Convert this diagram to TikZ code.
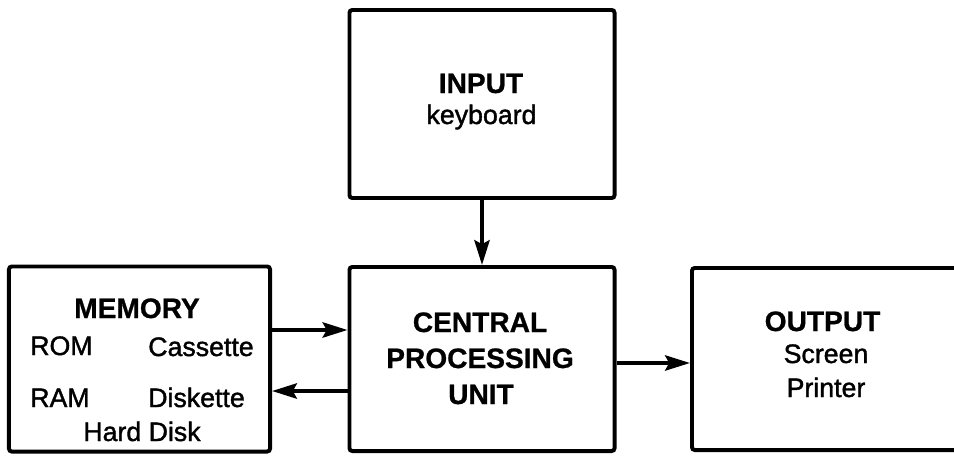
\documentclass[tikz,border=0pt]{standalone}
\usepackage{fontspec}
\setmainfont{Liberation Sans}
\newfontfamily\medfont[FakeBold=1.4]{Liberation Sans}
\newfontfamily\heavyfont[FakeBold=0.8]{Liberation Sans Bold}
\usetikzlibrary{arrows.meta}
\usetikzlibrary{positioning}

\begin{document}
\begin{tikzpicture}[x=0.025cm,y=-0.025cm,
>={Stealth[length=0.62cm,width=0.38cm,inset=0.1cm]},
block/.style={draw,rectangle,line width=2.8pt,rounded corners=2pt},
title/.style={font=\heavyfont\fontsize{20}{24}\selectfont,anchor=base,inner sep=0pt},
item/.style={font=\medfont\fontsize{19}{23}\selectfont,anchor=base,inner sep=0pt}]

\useasboundingbox (0,0) rectangle (954,455);

% blocks
\node[block,minimum width=6.525cm,minimum height=4.625cm] (memory) at (139.5,359) {};
\node[block,minimum width=6.625cm,minimum height=4.6cm] (cpu) at (482,359) {};
\node[block,minimum width=6.625cm,minimum height=4.7cm] (input) at (482,104) {};
\node[block,minimum width=6.65cm,minimum height=4.55cm] (output) at (825,359) {};

% input text
\node[title] (inputtitle) at (481,93) {INPUT};
\node[item] (keyboard) at (481.5,124) {keyboard};

% cpu text
\node[title] (cpuline1) at (480,332) {CENTRAL};
\node[title] (cpuline2) at (480,368) {PROCESSING};
\node[title] (cpuline3) at (481,404) {UNIT};

% memory text
\node[title] (memtitle) at (137,318) {MEMORY};
\node[item,anchor=base west] (rom) at (30,355) {ROM};
\node[item,anchor=base west] (cassette) at (148,356) {Cassette};
\node[item,anchor=base west] (ram) at (30,407) {RAM};
\node[item,anchor=base west] (diskette) at (148,407) {Diskette};
\node[item] (harddisk) at (142,441) {Hard Disk};

% output text
\node[title] (outtitle) at (822.5,331) {OUTPUT};
\node[item] (screen) at (826,363) {Screen};
\node[item] (printer) at (826,397) {Printer};

% connections
\draw [->,line width=2.8pt] (input.south) -- (cpu.north);
\draw [->,line width=2.8pt] ([yshift=0.725cm]memory.east) -- ([yshift=0.725cm]cpu.west);
\draw [->,line width=2.8pt] ([yshift=-0.8cm]cpu.west) -- ([yshift=-0.8cm]memory.east);
\draw [->,line width=2.8pt] ([yshift=-0.1cm]cpu.east) -- ([yshift=-0.1cm]output.west);
\end{tikzpicture}
\end{document}
